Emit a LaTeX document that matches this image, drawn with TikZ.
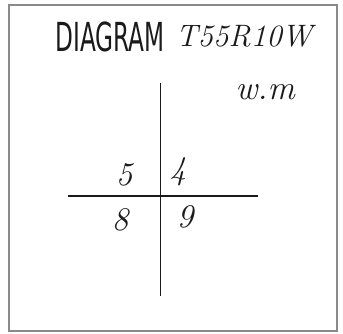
\documentclass[tikz,border=0pt]{standalone}
\usepackage{fontspec}
\usepackage{graphicx}
\setsansfont{DejaVu Sans}
\definecolor{scangray}{HTML}{8A8A8A}
\definecolor{inkblack}{HTML}{1A1A1A}
\begin{document}
\begin{tikzpicture}[x=1pt,y=-1pt,font=\sffamily,
  hand/.style={text=inkblack,font=\itshape\fontsize{31}{34}\selectfont,inner sep=0pt},
  digit/.style={text=inkblack,font=\itshape\fontsize{33}{36}\selectfont,inner sep=0pt}]
  \useasboundingbox (0,0) rectangle (343,334);
  \draw[scangray,line width=2pt] (9,5) rectangle (337,331);

  \node[text=inkblack,inner sep=0pt] (title) at (110,37) {\scalebox{0.58}[1]{\fontsize{40}{44}\selectfont DIAGRAM}};
  \node[hand] (twp) at (244,36) {T55R10W};
  \node[hand,font=\itshape\fontsize{34}{36}\selectfont] (wm) at (265,92) {w.m};

  \coordinate (top) at (160.5,83);
  \coordinate (bot) at (160.5,296);
  \coordinate (lft) at (68,196);
  \coordinate (rgt) at (258,196);
  \draw[inkblack,line width=1.5pt] (top) -- (bot);
  \draw[inkblack,line width=1.5pt] (lft) -- (rgt);

  \node[digit] (nw) at (124,175) {5};
  \node[digit] (ne) at (178,172) {4};
  \node[digit] (sw) at (120,220) {8};
  \node[digit] (se) at (185,217) {9};
\end{tikzpicture}
\end{document}
